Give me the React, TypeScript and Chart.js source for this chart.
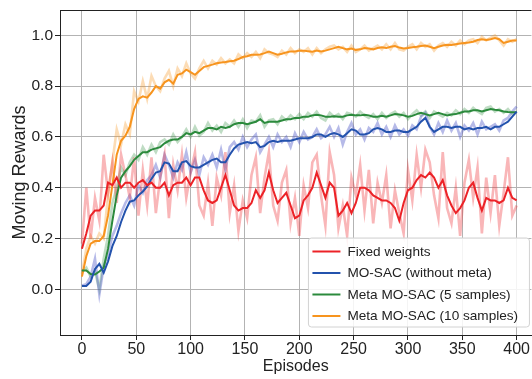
import React, { useEffect, useRef } from 'react';
import { Chart, registerables } from 'chart.js';

Chart.register(...registerables);

// Episodes sampled every 4 steps (0..400)
const EPISODES: number[] = Array.from({ length: 101 }, (_, i) => i * 4);

const X_TICKS = [0, 50, 100, 150, 200, 250, 300, 350, 400];
const Y_TICKS = [0, 0.2, 0.4, 0.6, 0.8, 1.0];

const LABELS = [
  'Fixed weights',
  'MO-SAC (without meta)',
  'Meta MO-SAC (5 samples)',
  'Meta MO-SAC (10 samples)',
];

const RED_SMOOTH = [
  0.16, 0.22, 0.29, 0.31, 0.31, 0.33, 0.42, 0.41, 0.44, 0.40,
  0.42, 0.42, 0.40, 0.42, 0.43, 0.41, 0.42, 0.40, 0.40, 0.42,
  0.37, 0.41, 0.42, 0.42, 0.44, 0.41, 0.44, 0.44, 0.39, 0.35,
  0.34, 0.35, 0.40, 0.45, 0.39, 0.33, 0.31, 0.32, 0.32, 0.34,
  0.39, 0.36, 0.39, 0.46, 0.39, 0.34, 0.36, 0.38, 0.33, 0.28,
  0.29, 0.35, 0.37, 0.40, 0.46, 0.41, 0.36, 0.42, 0.40, 0.29,
  0.31, 0.34, 0.30, 0.34, 0.40, 0.40, 0.39, 0.37, 0.36, 0.35,
  0.35, 0.34, 0.32, 0.27, 0.34, 0.39, 0.40, 0.43, 0.45, 0.44,
  0.46, 0.44, 0.40, 0.43, 0.37, 0.33, 0.30, 0.32, 0.35, 0.40,
  0.42, 0.36, 0.31, 0.36, 0.35, 0.35, 0.34, 0.35, 0.40, 0.36,
  0.35,
];

const BLUE_SMOOTH = [
  0.013, 0.013, 0.03, 0.08, 0.10, 0.065, 0.11, 0.17, 0.21, 0.265,
  0.31, 0.345, 0.35, 0.37, 0.385, 0.405, 0.435, 0.46, 0.465, 0.50,
  0.495, 0.465, 0.465, 0.50, 0.505, 0.485, 0.48, 0.48, 0.49, 0.50,
  0.51, 0.515, 0.50, 0.50, 0.53, 0.555, 0.57, 0.575, 0.58, 0.575,
  0.58, 0.56, 0.565, 0.58, 0.585, 0.58, 0.585, 0.585, 0.585, 0.59,
  0.595, 0.595, 0.595, 0.60, 0.61, 0.61, 0.60, 0.61, 0.615, 0.61,
  0.60, 0.615, 0.63, 0.625, 0.61, 0.61, 0.615, 0.63, 0.635, 0.63,
  0.62, 0.62, 0.625, 0.625, 0.62, 0.62, 0.63, 0.64, 0.66, 0.675,
  0.64, 0.62, 0.63, 0.64, 0.64, 0.635, 0.64, 0.64, 0.63, 0.635,
  0.63, 0.635, 0.635, 0.64, 0.63, 0.64, 0.64, 0.65, 0.66, 0.68,
  0.70,
];

const GREEN_SMOOTH = [
  0.074, 0.074, 0.06, 0.058, 0.07, 0.085, 0.16, 0.27, 0.37, 0.44,
  0.465, 0.485, 0.51, 0.525, 0.54, 0.54, 0.55, 0.555, 0.56, 0.575,
  0.585, 0.59, 0.59, 0.60, 0.615, 0.61, 0.62, 0.615, 0.625, 0.635,
  0.635, 0.63, 0.64, 0.635, 0.64, 0.65, 0.655, 0.655, 0.65, 0.655,
  0.66, 0.67, 0.655, 0.66, 0.66, 0.66, 0.665, 0.67, 0.67, 0.675,
  0.675, 0.68, 0.68, 0.685, 0.687, 0.685, 0.68, 0.68, 0.682, 0.68,
  0.68, 0.685, 0.687, 0.685, 0.685, 0.687, 0.685, 0.68, 0.68, 0.683,
  0.68, 0.685, 0.69, 0.688, 0.685, 0.68, 0.683, 0.69, 0.695, 0.69,
  0.685, 0.69, 0.695, 0.69, 0.685, 0.688, 0.69, 0.695, 0.70, 0.70,
  0.705, 0.705, 0.70, 0.705, 0.71, 0.707, 0.705, 0.70, 0.698, 0.697,
  0.697,
];

const ORANGE_SMOOTH = [
  0.05, 0.13, 0.18, 0.19, 0.19, 0.21, 0.29, 0.41, 0.53, 0.585,
  0.605, 0.64, 0.71, 0.75, 0.76, 0.755, 0.775, 0.80, 0.79, 0.815,
  0.825, 0.81, 0.845, 0.85, 0.865, 0.855, 0.845, 0.86, 0.875, 0.88,
  0.885, 0.89, 0.893, 0.895, 0.898, 0.90, 0.907, 0.915, 0.918, 0.924,
  0.924, 0.925, 0.93, 0.936, 0.93, 0.924, 0.928, 0.933, 0.937, 0.937,
  0.94, 0.94, 0.938, 0.936, 0.94, 0.937, 0.94, 0.945, 0.95, 0.955,
  0.95, 0.945, 0.948, 0.943, 0.945, 0.95, 0.948, 0.945, 0.95, 0.953,
  0.95, 0.955, 0.958, 0.952, 0.948, 0.95, 0.953, 0.955, 0.958, 0.96,
  0.955, 0.95, 0.955, 0.96, 0.963, 0.962, 0.965, 0.968, 0.97, 0.972,
  0.975, 0.982, 0.985, 0.982, 0.985, 0.99, 0.985, 0.97, 0.975, 0.98,
  0.98,
];

const RED_RAW = [
  0.18, 0.40, 0.20, 0.36, 0.27, 0.53, 0.38, 0.50, 0.34, 0.53,
  0.45, 0.36, 0.52, 0.29, 0.47, 0.33, 0.52, 0.30, 0.44, 0.53,
  0.28, 0.49, 0.39, 0.53, 0.36, 0.46, 0.54, 0.33, 0.29, 0.42,
  0.25, 0.44, 0.37, 0.54, 0.30, 0.41, 0.23, 0.35, 0.28, 0.45,
  0.52, 0.30, 0.44, 0.54, 0.33, 0.27, 0.42, 0.47, 0.26, 0.36,
  0.21, 0.41, 0.32, 0.50, 0.53, 0.37, 0.25, 0.54, 0.45, 0.24,
  0.33, 0.21, 0.44, 0.37, 0.49, 0.31, 0.47, 0.26, 0.42, 0.34,
  0.45, 0.24, 0.39, 0.30, 0.22, 0.47, 0.35, 0.53, 0.40, 0.55,
  0.50, 0.37, 0.28, 0.54, 0.32, 0.26, 0.40, 0.21, 0.42, 0.51,
  0.36, 0.48, 0.22, 0.44, 0.30, 0.45, 0.25, 0.38, 0.52, 0.29,
  0.33,
];

const BLUE_RAW = [
  0.015, 0.02, 0.05, 0.12, -0.02, 0.09, 0.14, 0.21, 0.25, 0.30,
  0.34, 0.37, 0.33, 0.41, 0.38, 0.43, 0.45, 0.49, 0.44, 0.53,
  0.49, 0.44, 0.50, 0.47, 0.54, 0.46, 0.51, 0.45, 0.52, 0.49,
  0.53, 0.48, 0.55, 0.47, 0.56, 0.58, 0.55, 0.60, 0.56, 0.59,
  0.61, 0.54, 0.57, 0.60, 0.56, 0.61, 0.58, 0.60, 0.56, 0.615,
  0.58, 0.62, 0.59, 0.60, 0.63, 0.595, 0.61, 0.64, 0.60, 0.635,
  0.57, 0.62, 0.655, 0.61, 0.63, 0.59, 0.635, 0.62, 0.655, 0.61,
  0.64, 0.60, 0.645, 0.61, 0.63, 0.605, 0.645, 0.63, 0.68, 0.695,
  0.64, 0.61, 0.655, 0.62, 0.665, 0.625, 0.655, 0.60, 0.645, 0.625,
  0.655, 0.61, 0.66, 0.63, 0.64, 0.65, 0.625, 0.665, 0.675, 0.70,
  0.72,
];

const GREEN_RAW = [
  0.07, 0.085, 0.05, 0.07, 0.0, 0.12, 0.21, 0.34, 0.40, 0.48,
  0.45, 0.50, 0.53, 0.51, 0.56, 0.53, 0.57, 0.54, 0.58, 0.59,
  0.57, 0.61, 0.58, 0.60, 0.63, 0.60, 0.64, 0.605, 0.62, 0.655,
  0.625, 0.645, 0.62, 0.655, 0.64, 0.665, 0.64, 0.67, 0.635, 0.665,
  0.66, 0.685, 0.64, 0.665, 0.67, 0.65, 0.68, 0.665, 0.685, 0.67,
  0.69, 0.67, 0.695, 0.68, 0.70, 0.675, 0.665, 0.695, 0.68, 0.69,
  0.67, 0.695, 0.69, 0.68, 0.70, 0.685, 0.675, 0.69, 0.67, 0.695,
  0.675, 0.69, 0.70, 0.68, 0.695, 0.67, 0.69, 0.705, 0.685, 0.70,
  0.675, 0.70, 0.69, 0.68, 0.695, 0.685, 0.705, 0.69, 0.71, 0.695,
  0.715, 0.70, 0.69, 0.715, 0.72, 0.70, 0.71, 0.695, 0.71, 0.69,
  0.70,
];

const ORANGE_RAW = [
  0.06, 0.16, 0.21, 0.18, 0.22, 0.20, 0.37, 0.50, 0.63, 0.57,
  0.65, 0.61, 0.78, 0.74, 0.82, 0.75, 0.84, 0.80, 0.78, 0.83,
  0.86, 0.80, 0.87, 0.84, 0.89, 0.85, 0.83, 0.87, 0.90, 0.87,
  0.90, 0.885, 0.91, 0.89, 0.905, 0.89, 0.925, 0.91, 0.93, 0.915,
  0.935, 0.91, 0.945, 0.93, 0.925, 0.915, 0.94, 0.925, 0.95, 0.93,
  0.945, 0.935, 0.95, 0.925, 0.95, 0.93, 0.945, 0.955, 0.96, 0.945,
  0.955, 0.935, 0.96, 0.935, 0.945, 0.96, 0.94, 0.95, 0.96, 0.945,
  0.965, 0.945, 0.97, 0.945, 0.94, 0.955, 0.965, 0.945, 0.97, 0.955,
  0.965, 0.94, 0.96, 0.97, 0.955, 0.975, 0.96, 0.98, 0.965, 0.98,
  0.985, 0.97, 0.995, 0.98, 0.99, 1.0, 0.98, 0.96, 0.985, 0.975,
  0.985,
];

const COLORS = ['#ec2227', '#2352ad', '#2b8a3c', '#f7941e'];
const RAW_COLORS = [
  'rgba(236, 34, 39, 0.33)',
  'rgba(80, 90, 200, 0.42)',
  'rgba(43, 138, 60, 0.30)',
  'rgba(247, 148, 30, 0.33)',
];

const FONT = "'Liberation Sans', Arial, Helvetica, sans-serif";
const TEXT = '#222222';

const toPoints = (ys: number[]) => EPISODES.map((x, i) => ({ x, y: ys[i] }));

const framePlugin = {
  id: 'topFrame',
  afterDraw(chart: any) {
    const { ctx, chartArea } = chart;
    ctx.save();
    ctx.strokeStyle = TEXT;
    ctx.lineWidth = 1;
    ctx.beginPath();
    ctx.moveTo(chartArea.left, chartArea.top + 0.5);
    ctx.lineTo(chartArea.right, chartArea.top + 0.5);
    ctx.stroke();
    ctx.restore();
  },
};

const legendPlugin = {
  id: 'boxLegend',
  afterDraw(chart: any) {
    const { ctx, chartArea } = chart;
    const boxW = 221;
    const boxH = 89;
    const x0 = chartArea.right - 2 - boxW;
    const y0 = chartArea.bottom - 8 - boxH;
    const r = 3;
    ctx.save();
    ctx.beginPath();
    ctx.moveTo(x0 + r, y0);
    ctx.lineTo(x0 + boxW - r, y0);
    ctx.arcTo(x0 + boxW, y0, x0 + boxW, y0 + r, r);
    ctx.lineTo(x0 + boxW, y0 + boxH - r);
    ctx.arcTo(x0 + boxW, y0 + boxH, x0 + boxW - r, y0 + boxH, r);
    ctx.lineTo(x0 + r, y0 + boxH);
    ctx.arcTo(x0, y0 + boxH, x0, y0 + boxH - r, r);
    ctx.lineTo(x0, y0 + r);
    ctx.arcTo(x0, y0, x0 + r, y0, r);
    ctx.closePath();
    ctx.fillStyle = 'rgba(255,255,255,0.85)';
    ctx.fill();
    ctx.strokeStyle = '#d2d2d2';
    ctx.lineWidth = 1;
    ctx.stroke();

    ctx.font = `13.6px ${FONT}`;
    ctx.textBaseline = 'middle';
    ctx.textAlign = 'left';
    LABELS.forEach((label, i) => {
      const cy = y0 + 13.5 + i * 21.5;
      ctx.strokeStyle = COLORS[i];
      ctx.lineWidth = 2;
      ctx.beginPath();
      ctx.moveTo(x0 + 4, cy);
      ctx.lineTo(x0 + 32, cy);
      ctx.stroke();
      ctx.fillStyle = TEXT;
      ctx.fillText(label, x0 + 39, cy + 0.5);
    });
    ctx.restore();
  },
};

export default function App() {
  const canvasRef = useRef<HTMLCanvasElement | null>(null);

  useEffect(() => {
    const canvas = canvasRef.current;
    if (!canvas) return;

    const smooth = [RED_SMOOTH, BLUE_SMOOTH, GREEN_SMOOTH, ORANGE_SMOOTH];
    const raw = [RED_RAW, BLUE_RAW, GREEN_RAW, ORANGE_RAW];

    const datasets: any[] = [];
    smooth.forEach((ys, i) => {
      datasets.push({
        label: LABELS[i],
        data: toPoints(ys),
        borderColor: COLORS[i],
        borderWidth: 2,
        pointRadius: 0,
        tension: 0,
        fill: false,
        order: i,
      });
    });
    raw.forEach((ys, i) => {
      datasets.push({
        label: LABELS[i] + ' (raw)',
        data: toPoints(ys),
        borderColor: RAW_COLORS[i],
        borderWidth: 2.6,
        pointRadius: 0,
        tension: 0,
        fill: false,
        order: 4 + i,
      });
    });

    const chart = new Chart(canvas, {
      type: 'line',
      data: { datasets },
      options: {
        animation: false,
        responsive: false,
        maintainAspectRatio: false,
        events: [],
        layout: { padding: { top: 10, left: 0, right: 0, bottom: 0 } },
        plugins: {
          legend: { display: false },
          tooltip: { enabled: false },
        },
        scales: {
          x: {
            type: 'linear',
            min: -20.2,
            max: 413.6,
            afterBuildTicks: (scale: any) => {
              scale.ticks = X_TICKS.map((v) => ({ value: v }));
            },
            afterFit: (scale: any) => {
              scale.height = 44;
            },
            ticks: {
              autoSkip: false,
              maxRotation: 0,
              padding: 2,
              color: TEXT,
              font: { family: FONT, size: 16, lineHeight: 1 },
              callback: (v: any) => String(v),
            },
            grid: {
              color: '#b3b3b3',
              lineWidth: 1,
              tickLength: 5,
              tickColor: TEXT,
            },
            border: { color: TEXT, width: 1 },
            title: {
              display: true,
              text: 'Episodes',
              color: TEXT,
              font: { family: FONT, size: 16 },
              padding: { top: 0, bottom: 3 },
            },
          },
          y: {
            type: 'linear',
            min: -0.18,
            max: 1.1,
            afterBuildTicks: (scale: any) => {
              scale.ticks = Y_TICKS.map((v) => ({ value: v }));
            },
            afterFit: (scale: any) => {
              scale.width = 60;
            },
            ticks: {
              autoSkip: false,
              padding: 2,
              color: TEXT,
              font: { family: FONT, size: 15.5, lineHeight: 1 },
              callback: (v: any) => Number(v).toFixed(1),
            },
            grid: {
              color: '#b3b3b3',
              lineWidth: 1,
              tickLength: 5,
              tickColor: TEXT,
            },
            border: { color: TEXT, width: 1 },
            title: {
              display: true,
              text: 'Moving Rewards',
              color: TEXT,
              font: { family: FONT, size: 18 },
              padding: { top: 9, bottom: 0 },
            },
          },
        },
      },
      plugins: [framePlugin, legendPlugin],
    });

    return () => {
      chart.destroy();
    };
  }, []);

  return (
    <div style={{ position: 'fixed', left: 0, top: 0, width: 532, height: 379, overflow: 'hidden', background: '#fff' }}>
      <canvas ref={canvasRef} width={532} height={379} style={{ display: 'block', width: 532, height: 379 }} />
    </div>
  );
}
